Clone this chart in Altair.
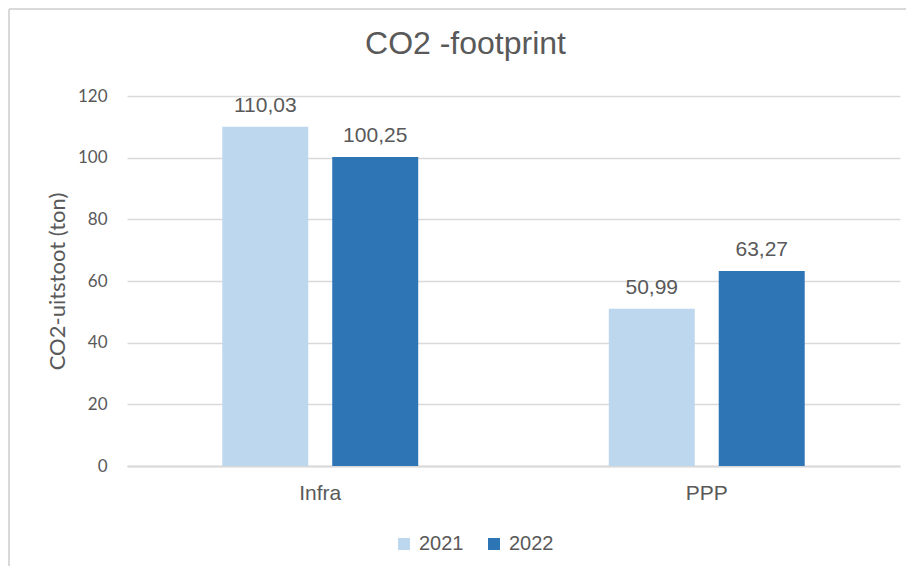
import altair as alt
import pandas as pd

categories = ["Infra", "PPP"]
years = ["2021", "2022"]
values_2021 = [110.03, 50.99]
values_2022 = [100.25, 63.27]
y_ticks = [0, 20, 40, 60, 80, 100, 120]

rows = []
for i, c in enumerate(categories):
    rows.append({"category": c, "year": years[0], "value": values_2021[i]})
    rows.append({"category": c, "year": years[1], "value": values_2022[i]})
df = pd.DataFrame(rows)

GRAY = "#595959"
GRID = "#D9D9D9"
SANS = "Liberation Sans"

base = alt.Chart(df).encode(
    x=alt.X(
        "category:N",
        sort=categories,
        scale=alt.Scale(paddingInner=0.493, paddingOuter=0.2465),
        axis=alt.Axis(
            title=None, labelAngle=0, ticks=False, labelPadding=16,
            labelFontSize=21, labelFont=SANS, labelColor=GRAY,
            domainColor=GRID, domainWidth=2,
        ),
    ),
    xOffset=alt.XOffset("year:N", sort=years, scale=alt.Scale(paddingInner=0.218)),
    y=alt.Y(
        "value:Q",
        scale=alt.Scale(domain=[0, 120]),
        axis=alt.Axis(
            values=y_ticks, title="CO2-uitstoot (ton)", domain=False, ticks=False,
            labelPadding=20, labelFontSize=17, labelFont="Lato", labelColor=GRAY,
            titleFontSize=22, titleFont="Lato", titleFontWeight="normal",
            titleColor=GRAY, titlePadding=8,
            gridColor=GRID, gridWidth=1.5,
        ),
    ),
)

bars = base.mark_bar().encode(
    color=alt.Color(
        "year:N",
        sort=years,
        scale=alt.Scale(domain=years, range=["#BDD7EE", "#2E75B6"]),
        legend=alt.Legend(
            title=None, orient="none", legendX=267, legendY=438,
            direction="horizontal", symbolType="square", symbolSize=144,
            symbolStrokeWidth=0, labelFontSize=20, labelFont=SANS,
            labelColor=GRAY, labelOffset=5, columnPadding=20,
        ),
    )
)

labels = base.transform_calculate(
    label="replace(format(datum.value, '.2f'), '.', ',')"
).mark_text(
    baseline="alphabetic", dy=-15, fontSize=21, font=SANS, color=GRAY
).encode(text="label:N")

frame_top = alt.Chart(df).mark_rule(color=GRID, strokeWidth=2).encode(
    x=alt.value(-118), x2=alt.value(779), y=alt.value(-87)
)
frame_left = alt.Chart(df).mark_rule(color=GRID, strokeWidth=2).encode(
    x=alt.value(-118), y=alt.value(-87), y2=alt.value(470)
)

chart = alt.layer(frame_top, frame_left, bars, labels).properties(
    width=773,
    height=370,
    autosize=alt.AutoSizeParams(type="none"),
    padding={"left": 119, "top": 88, "right": 6, "bottom": 100},
    title=alt.TitleParams(
        "CO2 -footprint", fontSize=32, font=SANS, fontWeight="normal",
        color=GRAY, anchor="middle", frame="group", dx=-48, baseline="alphabetic",
        offset=0, dy=78,
    ),
).configure_view(stroke=None)

chart.save("out.html", embed_options={"renderer": "svg", "actions": False})
